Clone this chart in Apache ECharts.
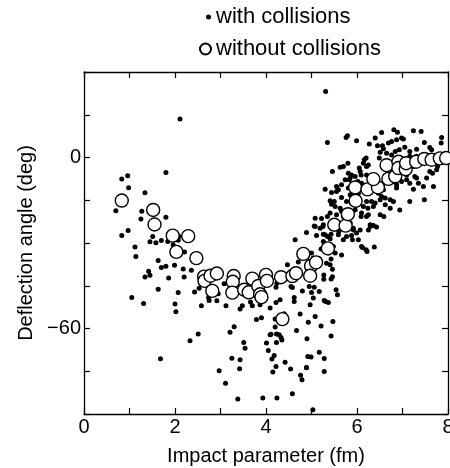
<!DOCTYPE html>
<html>
<head>
<meta charset="utf-8">
<script src="https://cdn.jsdelivr.net/npm/echarts@6/dist/echarts.min.js"></script>
<style>
html,body{margin:0;padding:0;background:#fff;}
#chart{width:450px;height:468px;}
</style>
</head>
<body>
<div id="chart"></div>
<script>
// Impact parameter (fm), deflection angle (deg): points "with collisions" (small dots)
var withCollisions = [
[2.11,13.5],[1.80,-5.3],[0.83,-7.5],[0.96,-6.4],[0.98,-10.6],[1.34,-12.4],[0.70,-18.7],[1.27,-18.9],[1.25,-21.6],[1.80,-21.0],
[0.97,-25.6],[0.83,-27.4],[1.51,-27.7],[1.45,-29.6],[1.58,-29.9],[1.70,-29.1],[1.84,-29.5],[1.96,-30.6],[2.09,-27.7],[2.07,-29.0],
[2.21,-33.2],[1.12,-31.4],[1.14,-34.7],[1.63,-36.1],[1.99,-37.8],[1.70,-38.6],[1.80,-38.2],[2.18,-39.1],[2.36,-39.6],[1.42,-39.9],
[1.45,-41.3],[1.34,-41.9],[1.86,-42.3],[2.20,-41.9],[1.63,-46.2],[2.07,-47.4],[2.43,-47.2],[2.53,-45.9],[1.05,-49.1],[1.31,-51.2],
[2.00,-51.4],[2.02,-54.1],[2.51,-61.9],[2.33,-64.3],[1.68,-70.6],
[2.58,-52.0],[2.74,-49.1],[2.75,-50.2],[2.92,-50.3],[2.95,-47.8],[3.12,-52.0],[3.08,-44.3],[3.43,-53.2],[3.48,-52.0],[3.66,-50.7],
[3.70,-52.0],[3.87,-51.7],[3.79,-56.8],[3.90,-56.2],[3.30,-59.4],[3.21,-61.3],[3.51,-64.9],[3.54,-66.9],[3.25,-70.4],[3.43,-71.0],
[3.42,-74.1],[2.97,-74.8],[3.11,-79.2],[3.38,-84.7],[3.93,-84.4],[4.01,-65.1],[4.05,-67.7],[4.09,-62.2],[4.22,-50.9],[4.20,-59.5],
[4.11,-62.0],[4.23,-61.9],[4.29,-62.2],[4.33,-63.2],[4.35,-64.0],[4.23,-64.9],[4.18,-69.5],[4.13,-70.7],[4.22,-73.3],[4.15,-75.3],
[4.42,-71.8],[4.54,-74.2],[4.58,-82.9],[4.24,-84.4],[4.40,-54.8],[4.20,-56.7],[4.31,-49.9],[4.62,-50.5],[4.62,-49.1],[4.22,-45.5],
[4.47,-37.6],[4.55,-45.3],[4.58,-45.6],[4.71,-36.7],[4.64,-28.9],[4.67,-60.7],[4.75,-54.9],[4.76,-76.4],[4.79,-78.0],[4.89,-73.8],
[4.24,-44.1],[5.37,-33.5],[4.09,-52.8],
[4.89,-26.3],[5.06,-24.0],[5.25,-24.2],[5.11,-27.4],[5.30,-27.1],[5.43,-26.9],[5.60,-26.0],[5.70,-28.9],[5.88,-27.4],[5.90,-28.9],
[6.07,-25.4],[6.36,-23.9],[6.43,-24.4],[6.12,-31.6],[6.22,-33.0],[6.38,-31.4],[5.41,-28.5],[5.48,-31.2],[5.52,-33.5],[5.66,-34.2],
[5.43,-35.6],[5.33,-37.1],[5.41,-37.6],[5.46,-39.2],[5.21,-32.1],[5.17,-35.5],[5.00,-33.5],[5.04,-35.3],[5.04,-40.6],[5.27,-41.2],
[5.27,-42.7],[5.46,-41.8],[5.43,-42.6],[4.80,-46.8],[4.95,-45.3],[5.06,-45.5],[5.17,-47.0],[5.00,-47.4],[5.04,-49.3],[5.28,-50.2],
[5.37,-50.9],[5.54,-46.4],[5.57,-48.2],[4.97,-51.7],[5.08,-55.8],[5.47,-57.5],[4.93,-57.8],[5.21,-59.1],[5.43,-62.6],[4.90,-63.6],
[4.99,-70.0],[4.92,-69.8],[5.17,-68.3],[5.28,-70.5],[4.89,-73.7],[5.28,-75.1],[5.03,-88.5],[5.31,-50.5],
[5.22,-21.4],[5.35,-20.7],[5.41,-19.5],[5.50,-15.4],[5.52,-17.2],[5.44,-12.3],[5.30,-11.1],[5.55,-11.9],[5.66,-9.6],[5.59,-11.3],
[5.66,-14.0],[5.41,-15.2],[5.44,-16.4],[5.55,-20.1],[5.46,-22.5],[5.44,-24.8],[5.08,-21.3],[5.08,-24.2],[5.26,-23.6],[5.19,-24.8],
[5.26,-26.9],[5.35,-27.7],[5.26,-29.5],[5.59,-27.1],[5.77,-27.7],[5.92,-25.4],[6.03,-28.9],[6.10,-31.2],[6.20,-32.4],[6.29,-24.2],
[5.70,-20.7],[5.66,-18.9],[5.96,-18.4],[6.10,-19.5],[6.21,-20.7],[6.24,-17.8],[5.88,-16.0],[5.77,-15.4],[5.85,-13.1],[6.03,-12.5],
[6.21,-15.4],[6.40,-16.0],[6.51,-14.8],[6.62,-16.6],[6.73,-17.8],[6.51,-20.1],[6.25,-25.4],[6.62,-14.2],[6.73,-14.8],[6.58,-11.3],
[6.87,-10.7],[6.94,-18.4],[6.43,-10.5],[5.81,-10.7],[5.55,-10.2],[5.85,-7.2],[6.10,-9.0],[6.29,-7.8],[6.62,-7.8],[6.80,-8.4],
[6.91,-7.8],[6.59,-20.7],[6.80,-15.4],[7.16,-15.4],[7.24,-11.1],[7.48,-14.8],[7.46,-10.2],[7.31,-7.2],[7.68,-10.2],[7.66,-5.5],
[7.75,-4.3],[7.68,-0.8],[6.47,-9.0],[6.56,-10.2],[6.47,-12.5],[6.54,-13.7],[6.36,-17.2],[6.32,-15.4],[6.14,-17.2],[6.02,-16.0],
[6.09,-20.7],[6.25,-20.1],[6.29,-23.6],[5.85,-23.0],[5.92,-24.8],[5.99,-26.5],[5.74,-19.5],[5.63,-17.8],[5.63,-3.4],[5.80,-2.0],
[6.05,-3.7],[6.16,-0.8],[6.20,-0.2],[6.21,-3.2],[6.09,-6.1],[6.02,-8.4],[5.88,-6.1],[5.83,-7.8],[5.46,-4.9],[5.70,-3.2],
[5.74,-7.8],[5.81,-5.5],[5.96,-6.7],[6.21,-6.1],[6.07,-4.9],[6.14,-2.0],[6.25,-2.6],[6.49,-0.2],[6.51,1.8],[6.65,1.5],
[6.76,0.9],[6.84,2.1],[6.65,-4.3],[6.76,-2.6],[6.80,-6.7],[6.87,-9.6],[6.98,-8.4],[7.09,-7.8],[6.91,-4.9],[7.05,-2.0],
[7.13,-4.9],[7.24,-3.2],[7.38,-0.8],[7.31,0.4],[7.16,0.4],[6.98,-0.8],[7.27,-2.2],[7.09,-6.1],[7.27,-6.7],[7.16,-9.0],
[7.35,-9.0],[7.53,-7.2],[7.60,-4.9],[7.77,-3.2],
[5.31,23.2],[5.35,5.3],[5.76,7.0],[5.79,7.6],[5.99,5.9],[6.27,4.7],[6.40,6.8],[6.54,8.8],[6.45,4.1],[6.58,3.1],
[6.69,5.1],[6.76,5.6],[6.81,9.7],[6.89,8.9],[7.02,6.5],[6.93,2.7],[7.24,9.4],[7.41,9.1],[7.48,5.3],[7.60,3.5],
[7.86,7.0],[7.85,5.1],[6.98,6.8],[6.87,6.2],[7.05,3.6],[7.16,2.1],[7.31,2.9],[7.64,2.7],[6.56,4.1]
];

// points "without collisions" (open circles)
var withoutCollisions = [
[0.83,-15.1],[1.52,-18.4],[1.55,-23.5],[1.95,-27.4],[2.29,-27.6],[2.03,-33.1],[2.47,-35.3],[2.64,-41.8],[2.65,-43.3],[2.78,-41.5],
[2.92,-40.7],[2.82,-46.8],[3.29,-41.6],[3.27,-43.6],[3.26,-47.4],[3.52,-46.4],[3.62,-47.3],[3.70,-42.5],[3.83,-45.1],[3.87,-48.0],
[3.90,-49.0],[4.00,-41.2],[4.02,-43.3],[4.33,-42.0],[4.58,-41.6],[4.66,-40.6],[4.82,-33.8],[4.99,-38.0],[5.10,-36.8],[4.97,-41.5],
[4.36,-56.7],[5.36,-31.9],[5.50,-23.6],[5.75,-23.9],[5.80,-19.9],[5.97,-15.2],[5.96,-10.5],[6.23,-11.2],[6.46,-10.5],[6.36,-7.6],
[6.69,-7.5],[6.84,-6.6],[6.65,-2.7],[6.91,-1.5],[6.91,-3.7],[7.07,-4.1],[7.08,-2.0],[7.30,-1.5],[7.48,-0.5],[7.64,-0.8],
[7.82,-0.3],[7.96,-0.2]
];

var seriesNames = ['with collisions', 'without collisions'];
var xLabelValues = [0, 2, 4, 6, 8];
var yLabelValues = [0, -60];
var xTitle = 'Impact parameter (fm)';
var yTitle = 'Deflection angle (deg)';

var FONT = '"Liberation Sans", Arial, Helvetica, sans-serif';
var chart = echarts.init(document.getElementById('chart'), null, {renderer: 'canvas'});

function baseX(pos, showLabel) {
  return {
    type: 'value', min: 0, max: 8, interval: 1, position: pos,
    axisLine: {show: true, onZero: false, lineStyle: {color: '#000', width: 1.3}},
    axisTick: {show: true, inside: true, length: 6, lineStyle: {color: '#000', width: 1.2}},
    splitLine: {show: false},
    axisLabel: {
      show: showLabel, margin: 3, color: '#000', fontSize: 20, fontFamily: FONT,
      hideOverlap: false,
      formatter: function (v) { return xLabelValues.indexOf(v) >= 0 ? String(v) : ''; }
    }
  };
}
function baseY(pos, showLabel) {
  return {
    type: 'value', min: -90, max: 30, interval: 15, position: pos,
    axisLine: {show: true, onZero: false, lineStyle: {color: '#000', width: 1.3}},
    axisTick: {show: true, inside: true, length: 6, lineStyle: {color: '#000', width: 1.2}},
    splitLine: {show: false},
    axisLabel: {
      show: showLabel, margin: 3, color: '#000', fontSize: 20, fontFamily: FONT,
      formatter: function (v) {
        if (yLabelValues.indexOf(v) < 0) return '';
        return v < 0 ? '\u2212' + Math.abs(v) : String(v);
      }
    }
  };
}

var xb = baseX('bottom', true);
xb.name = xTitle; xb.nameLocation = 'middle'; xb.nameGap = 32;
xb.nameTextStyle = {fontSize: 20, color: '#000', fontFamily: FONT};
var xt = baseX('top', false);
var yl = baseY('left', true);
yl.name = yTitle; yl.nameLocation = 'middle'; yl.nameGap = 46;
yl.nameTextStyle = {fontSize: 20, color: '#000', fontFamily: FONT};
var yr = baseY('right', false);

chart.setOption({
  animation: false,
  backgroundColor: '#fff',
  grid: {left: 84, right: 2, top: 72, bottom: 54, containLabel: false, outerBoundsMode: 'none'},
  legend: [
    {data: [seriesNames[0]], left: 206, top: 6, padding: 0, icon: 'circle', itemWidth: 5, itemHeight: 5,
     textStyle: {fontSize: 22, color: '#000', fontFamily: FONT}},
    {data: [seriesNames[1]], left: 199, top: 38, padding: 0, icon: 'circle', itemWidth: 11, itemHeight: 11,
     textStyle: {fontSize: 22, color: '#000', fontFamily: FONT}}
  ],
  xAxis: [xb, xt],
  yAxis: [yl, yr],
  series: [
    {name: seriesNames[0], type: 'scatter', xAxisIndex: 0, yAxisIndex: 0, data: withCollisions,
     symbol: 'circle', symbolSize: 5, itemStyle: {color: '#000', opacity: 1}, z: 2, clip: false},
    {name: seriesNames[1], type: 'scatter', xAxisIndex: 0, yAxisIndex: 0, data: withoutCollisions,
     symbol: 'circle', symbolSize: 13, itemStyle: {color: '#fff', borderColor: '#000', borderWidth: 1.4, opacity: 1}, z: 3, clip: false}
  ]
});
</script>
</body>
</html>
